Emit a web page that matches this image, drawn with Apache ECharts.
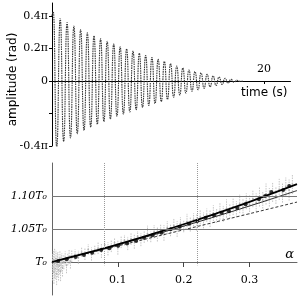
<!DOCTYPE html>
<html><head><meta charset="utf-8">
<script src="https://cdn.jsdelivr.net/npm/echarts@6/dist/echarts.min.js"></script>
<style>html,body{margin:0;padding:0;background:#fff}#c{width:300px;height:301px}</style>
</head><body><div id="c"></div>
<script>
// ---------- top panel: damped oscillation (amplitude in units of pi) ----------
const startTime = 0.0, startAmp = 0.40;
const peakTimes = [0.12,0.773,1.421,2.064,2.702,3.335,3.963,4.586,5.205,5.82,6.431,7.038,7.641,8.24,8.835,9.427,10.016,10.602,11.185,11.765,12.342,12.917,13.49,14.061,14.63,15.197,15.762,16.326,16.889,17.451];
const peakAmps = [0.426,0.385,0.36,0.338,0.316,0.296,0.278,0.26,0.244,0.228,0.21,0.198,0.185,0.171,0.157,0.145,0.133,0.121,0.108,0.092,0.08,0.068,0.058,0.05,0.041,0.032,0.025,0.017,0.01,0.005];
const troughTimes = [0.447,1.097,1.743,2.383,3.019,3.649,4.275,4.896,5.513,6.126,6.735,7.34,7.941,8.538,9.131,9.722,10.309,10.894,11.475,12.054,12.63,13.204,13.776,14.346,14.914,15.48,16.044,16.608,17.17];
const troughAmps = [-0.41,-0.372,-0.35,-0.325,-0.305,-0.284,-0.266,-0.25,-0.234,-0.217,-0.203,-0.19,-0.177,-0.163,-0.15,-0.139,-0.127,-0.114,-0.1,-0.086,-0.074,-0.063,-0.054,-0.045,-0.036,-0.028,-0.021,-0.013,-0.007];
const tailTimes = [17.73, 18.0];
const tailAmps = [-0.002, 0];
const topYTickValues = [-0.4,-0.2,0,0.2,0.4];
const topYLabelValues = [-0.4,0,0.2,0.4];
const topYLabelTexts = ['-0.4π','0','0.2π','0.4π'];
const topXTickValues = [20];
const topXLabelTexts = ['20'];

// ---------- bottom panel: period vs amplitude alpha (ratio T/T0) ----------
const dotAlpha = [0.0095,0.0222,0.0359,0.0485,0.061,0.0747,0.087,0.1005,0.114,0.1277,0.1398,0.1526,0.1662,0.1803,0.1939,0.208,0.2207,0.2333,0.2459,0.2576,0.2687,0.2813,0.2939,0.3141,0.3237,0.333,0.351,0.3601];
const dotRatio = [1.0015,1.004,1.0076,1.0106,1.014,1.018,1.021,1.0247,1.028,1.032,1.0368,1.0404,1.0444,1.0495,1.0535,1.058,1.0626,1.067,1.071,1.0747,1.077,1.082,1.0874,1.095,1.100,1.106,1.109,1.115];
const curveAlpha = [0,0.05,0.1,0.15,0.2,0.25,0.3,0.35,0.372];
const thickRatio = [1.0,1.0129,1.0268,1.0416,1.0572,1.0738,1.0912,1.1096,1.1179];
const thinRatio  = [1.0,1.0128,1.0261,1.0400,1.0544,1.0694,1.0849,1.1010,1.1082];
const dashAlpha = [0,0.372];
const dashRatio = [1.0,1.0908];
const errAlpha = [0.001,0.002,0.003,0.004,0.005,0.006,0.007,0.008,0.009,0.010,0.011,0.012,0.013,0.014,0.015,0.016,0.018,0.020,0.022,0.024,0.026,0.028,0.030,
  0.035,0.04,0.045,0.05,0.055,0.06,0.065,0.07,0.075,0.08,0.085,0.09,0.095,0.10,0.105,0.11,0.115,0.12,0.125,0.13,0.135,0.14,0.145,0.15,0.155,0.16,0.165,0.17,0.175,0.18,0.185,0.19,0.195,0.20,0.205,0.21,0.215,0.22,0.225,0.23,0.235,0.24,0.245,0.25,0.255,0.26,0.265,0.27,0.275,0.28,0.285,0.29,0.295,0.30,0.305,0.31,0.315,0.32,0.325,0.33,0.335,0.34,0.345,0.35,0.355,0.36,0.365];
const errMid = [0.992,1.003,0.985,0.998,0.990,1.005,0.982,0.996,1.001,0.988,0.994,1.006,0.986,0.999,1.003,0.991,1.000,1.006,0.995,1.004,1.008,1.000,1.009,
  1.011,1.007,1.015,1.012,1.019,1.012,1.018,1.021,1.017,1.026,1.020,1.024,1.029,1.022,1.030,1.033,1.028,1.035,1.031,1.039,1.034,1.038,1.043,1.038,1.046,1.042,1.048,1.044,1.052,1.048,1.055,1.050,1.058,1.054,1.061,1.057,1.064,1.060,1.068,1.063,1.071,1.066,1.074,1.070,1.077,1.073,1.081,1.077,1.084,1.080,1.088,1.083,1.092,1.087,1.096,1.090,1.099,1.094,1.103,1.098,1.106,1.101,1.110,1.105,1.114,1.109,1.118];
const errHalf = [0.020,0.015,0.018,0.022,0.016,0.012,0.017,0.019,0.014,0.016,0.013,0.011,0.015,0.012,0.010,0.013,0.011,0.010,0.012,0.009,0.011,0.010,0.009,
  0.008,0.010,0.007,0.009,0.008,0.010,0.007,0.009,0.011,0.008,0.010,0.009,0.007,0.011,0.009,0.008,0.010,0.009,0.011,0.008,0.010,0.009,0.012,0.008,0.010,0.011,0.009,0.012,0.010,0.009,0.011,0.012,0.010,0.009,0.012,0.011,0.010,0.013,0.011,0.012,0.010,0.013,0.012,0.011,0.013,0.012,0.014,0.011,0.013,0.012,0.014,0.013,0.012,0.015,0.013,0.014,0.015,0.013,0.016,0.014,0.015,0.013,0.016,0.015,0.014,0.016,0.015];
const refRatios = [1.05, 1.10];
const markAlphas = [0.08, 0.22];
const botXTickValues = [0.1,0.2,0.3];
const botXLabelTexts = ['0.1','0.2','0.3'];
const botYLabelRatios = [1.0,1.05,1.10];
const botYLabelTexts = ['T₀','1.05T₀','1.10T₀'];

// ---------- build ----------
const wave = [[startTime,startAmp]];
for (let i=0;i<peakTimes.length;i++){
  wave.push([peakTimes[i],peakAmps[i]]);
  if (i<troughTimes.length) wave.push([troughTimes[i],troughAmps[i]]);
}
for (let i=0;i<tailTimes.length;i++) wave.push([tailTimes[i],tailAmps[i]]);

const off = r => r - 1; // plot T/T0 - 1 so the alpha axis sits at T0
const pick = (vals, texts) => v => { const i = vals.findIndex(u => Math.abs(u - v) < 1e-6); return i >= 0 ? texts[i] : ''; };

// grid geometry
const topGrid = {left:52, top:3, width:238.5, height:143};
const botGrid = {left:52, top:163, width:245, height:132};
const topYMin = -0.4, topYMax = 0.48;
const botYMin = -0.05, botYMax = 0.15;
// move each x axis from its grid's bottom edge up to the zero line of its y axis
const topXOffset = -topGrid.height * (0 - topYMin) / (topYMax - topYMin);
const botXOffset = -botGrid.height * (0 - botYMin) / (botYMax - botYMin);

const serif = 'DejaVu Serif', sans = 'DejaVu Sans';
const chart = echarts.init(document.getElementById('c'), null, {renderer:'canvas'});
chart.setOption({
  animation:false,
  backgroundColor:'#fff',
  grid:[
    Object.assign({containLabel:false, outerBoundsMode:'none'}, topGrid),
    Object.assign({containLabel:false, outerBoundsMode:'none'}, botGrid)
  ],
  xAxis:[
    {gridIndex:0, type:'value', min:0, max:22.5, position:'bottom', offset:topXOffset,
     axisLine:{onZero:false, lineStyle:{color:'#000', width:1}},
     axisTick:{show:true, length:3, customValues:topXTickValues, lineStyle:{color:'#000'}},
     axisLabel:{inside:true, margin:6, customValues:topXTickValues, formatter:pick(topXTickValues, topXLabelTexts), fontFamily:serif, fontSize:11, color:'#000'},
     splitLine:{show:false}, nameMoveOverlap:false,
     name:'time (s)', nameLocation:'end', nameGap:-3,
     nameTextStyle:{fontFamily:sans, fontSize:12, color:'#000', align:'right', verticalAlign:'top', padding:[6,0,0,0]}},
    {gridIndex:1, type:'value', min:0, max:0.372, position:'bottom', offset:botXOffset,
     axisLine:{onZero:false, lineStyle:{color:'#666', width:1}},
     axisTick:{show:true, length:5, customValues:botXTickValues, lineStyle:{color:'#444'}},
     axisLabel:{margin:13, customValues:botXTickValues, formatter:pick(botXTickValues, botXLabelTexts), fontFamily:serif, fontSize:11, color:'#000'},
     splitLine:{show:false}, nameMoveOverlap:false,
     name:'α', nameLocation:'end', nameGap:-3,
     nameTextStyle:{fontFamily:serif, fontStyle:'italic', fontSize:13, color:'#000', align:'right', verticalAlign:'bottom', padding:[0,0,1,0]}}
  ],
  yAxis:[
    {gridIndex:0, type:'value', min:topYMin, max:topYMax,
     axisLine:{show:true, onZero:false, lineStyle:{color:'#000', width:1}},
     axisTick:{show:true, length:3, customValues:topYTickValues, lineStyle:{color:'#000'}},
     axisLabel:{margin:4, customValues:topYLabelValues, formatter:pick(topYLabelValues, topYLabelTexts), fontFamily:serif, fontSize:11, color:'#000'},
     splitLine:{show:false}, nameMoveOverlap:false,
     name:'amplitude (rad)', nameLocation:'middle', nameRotate:90, nameGap:33,
     nameTextStyle:{fontFamily:sans, fontSize:12, color:'#000', padding:[0,10,0,0]}},
    {gridIndex:1, type:'value', min:botYMin, max:botYMax,
     axisLine:{show:true, onZero:false, lineStyle:{color:'#666', width:1}},
     axisTick:{show:false},
     axisLabel:{margin:5, customValues:botYLabelRatios.map(off), formatter:pick(botYLabelRatios.map(off), botYLabelTexts), fontFamily:serif, fontStyle:'italic', fontSize:11, color:'#000'},
     splitLine:{show:false}}
  ],
  series:[
    {type:'line', xAxisIndex:0, yAxisIndex:0, data:wave, showSymbol:false, smooth:0.55, smoothMonotone:'x',
     lineStyle:{color:'#3a3a3a', width:1.1, type:[1.6,0.8]}},
    {type:'custom', xAxisIndex:1, yAxisIndex:1,
     data:errAlpha.map((a,i)=>[a, off(errMid[i]-errHalf[i]), off(errMid[i]+errHalf[i]), off(errMid[i])]),
     renderItem:(params, api)=>{
       const p1 = api.coord([api.value(0), api.value(1)]);
       const p2 = api.coord([api.value(0), api.value(2)]);
       const pc = api.coord([api.value(0), api.value(3)]);
       return {type:'group', children:[
         {type:'line', shape:{x1:p1[0], y1:p1[1], x2:p2[0], y2:p2[1]}, style:{stroke:'#c4c4c4', lineWidth:1, lineDash:[1.5,1]}},
         {type:'circle', shape:{cx:pc[0], cy:pc[1], r:0.9}, style:{fill:'#b0b0b0'}}
       ]};
     }, silent:true},
    {type:'line', xAxisIndex:1, yAxisIndex:1, data:dashAlpha.map((a,i)=>[a, off(dashRatio[i])]), showSymbol:false,
     lineStyle:{color:'#222', width:0.9, type:[3,2]},
     markLine:{silent:true, symbol:'none', label:{show:false},
       data:[
         ...refRatios.map(r=>({yAxis:off(r), lineStyle:{color:'#777', width:1, type:'solid'}})),
         ...markAlphas.map(a=>[{coord:[a, botYMax], lineStyle:{color:'#999', width:1, type:[1,1]}},{coord:[a, -0.005]}])
       ]}},
    {type:'line', xAxisIndex:1, yAxisIndex:1, data:curveAlpha.map((a,i)=>[a, off(thinRatio[i])]), showSymbol:false, smooth:true,
     lineStyle:{color:'#111', width:0.9}},
    {type:'line', xAxisIndex:1, yAxisIndex:1, data:curveAlpha.map((a,i)=>[a, off(thickRatio[i])]), showSymbol:false, smooth:true,
     lineStyle:{color:'#000', width:1.8}},
    {type:'scatter', xAxisIndex:1, yAxisIndex:1, data:dotAlpha.map((a,i)=>[a, off(dotRatio[i])]), symbol:'circle', symbolSize:4,
     itemStyle:{color:'#000'}}
  ]
});
</script></body></html>
